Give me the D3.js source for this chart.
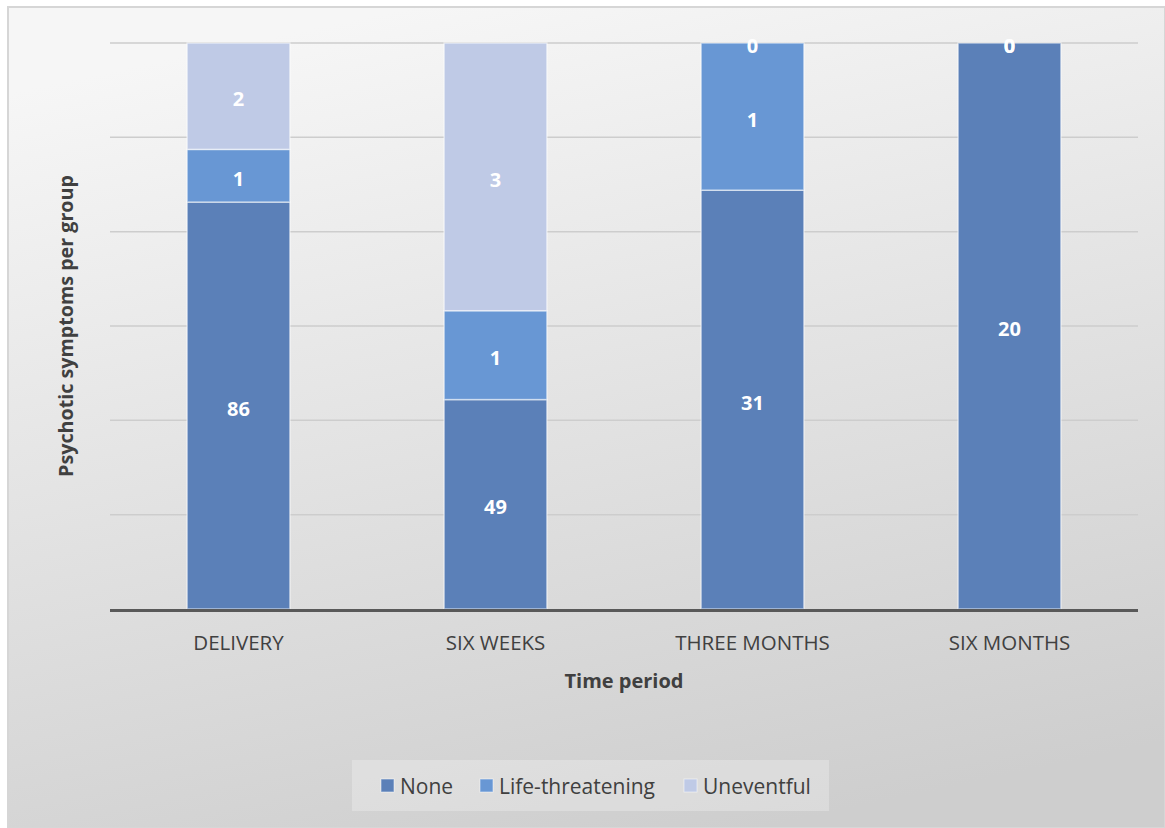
<!DOCTYPE html>
<html>
<head>
<meta charset="utf-8">
<script src="https://cdn.jsdelivr.net/npm/d3@7"></script>
<style>
  html, body { margin: 0; padding: 0; background: #ffffff; }
  svg { display: block; font-family: "Open Sans", "Noto Sans", sans-serif; }
</style>
</head>
<body>
<svg id="chart" width="1165" height="828"></svg>
<script>
// Time periods along the x axis
const periods = ["DELIVERY", "SIX WEEKS", "THREE MONTHS", "SIX MONTHS"];
const seriesNames = ["None", "Life-threatening", "Uneventful"];

// Counts shown in the data labels, per series
const noneCounts = [86, 49, 31, 20];
const lifeCounts = [1, 1, 1, 0];
const uneventfulCounts = [2, 3, 0, 0];

// Share of each bar (percent) taken by each series
const noneShare = [71.9, 37.0, 74.0, 100];
const lifeShare = [9.3, 15.7, 26.0, 0];
const uneventfulShare = [18.8, 47.3, 0, 0];

const gridTicks = [0, 16.67, 33.33, 50, 66.67, 83.33, 100];

const colors = { "None": "#5b80b8", "Life-threatening": "#6897d4", "Uneventful": "#bfcae6" };

const rows = periods.map((p, i) => ({
  period: p,
  "None": noneShare[i],
  "Life-threatening": lifeShare[i],
  "Uneventful": uneventfulShare[i],
  counts: { "None": noneCounts[i], "Life-threatening": lifeCounts[i], "Uneventful": uneventfulCounts[i] }
}));

const svg = d3.select("#chart");
const W = 1165, H = 828;

// Panel background with soft vertical gradient
const defs = svg.append("defs");
const grad = defs.append("linearGradient").attr("id", "bg")
  .attr("x1", "0.35").attr("y1", "0").attr("x2", "0.65").attr("y2", "1");
grad.append("stop").attr("offset", "0").attr("stop-color", "#f6f6f6");
grad.append("stop").attr("offset", "1").attr("stop-color", "#cecece");

svg.append("rect").attr("x", 8).attr("y", 7).attr("width", W - 8).attr("height", H - 7)
  .attr("fill", "url(#bg)").attr("stroke", "#d6d6d6").attr("stroke-width", 2);

const plot = { left: 110, right: 1138, top: 43, bottom: 609 };

const x = d3.scaleBand().domain(periods).range([plot.left, plot.right]).paddingInner(0.6).paddingOuter(0.3);
const y = d3.scaleLinear().domain([0, 100]).range([plot.bottom, plot.top]);

// Gridlines
svg.append("g").selectAll("line").data(gridTicks.slice(1)).join("line")
  .attr("x1", plot.left).attr("x2", plot.right)
  .attr("y1", d => y(d)).attr("y2", d => y(d))
  .attr("stroke", "#cdcdcd").attr("stroke-width", 1.5);

// Stacked bars
const stack = d3.stack().keys(seriesNames);
const layers = stack(rows);

defs.append("clipPath").attr("id", "plotclip").append("rect")
  .attr("x", plot.left).attr("y", plot.top - 6).attr("width", plot.right - plot.left).attr("height", plot.bottom - plot.top + 6);

const barG = svg.append("g");
layers.forEach(layer => {
  barG.append("g").selectAll("rect").data(layer).join("rect")
    .attr("x", d => x(d.data.period))
    .attr("width", x.bandwidth())
    .attr("y", d => y(d[1]))
    .attr("height", d => y(d[0]) - y(d[1]))
    .attr("fill", colors[layer.key])
    .attr("stroke", "#ffffff").attr("stroke-opacity", 0.55).attr("stroke-width", 1.5);
});

// Data labels (counts), centred in each segment
const labelG = svg.append("g").attr("clip-path", "url(#plotclip)");
layers.forEach(layer => {
  labelG.append("g").selectAll("text").data(layer.filter(d => d.data.counts[layer.key] > 0 || d[0] >= 99.9)).join("text")
    .attr("x", d => x(d.data.period) + x.bandwidth() / 2)
    .attr("y", d => (y(d[0]) + y(d[1])) / 2)
    .attr("dy", "0.5em")
    .attr("text-anchor", "middle")
    .attr("fill", "#ffffff").attr("font-weight", "bold").attr("font-size", 20)
    .text(d => d.data.counts[layer.key]);
});

// Baseline
svg.append("line").attr("x1", plot.left).attr("x2", plot.right)
  .attr("y1", plot.bottom + 1.5).attr("y2", plot.bottom + 1.5)
  .attr("stroke", "#595959").attr("stroke-width", 3);

// Category labels
const xAxis = d3.axisBottom(x).tickSize(0).tickPadding(0);
const xg = svg.append("g").attr("transform", `translate(0,${plot.bottom})`).call(xAxis);
xg.select(".domain").remove();
xg.selectAll("text").attr("y", 34).attr("dy", "0.32em")
  .attr("font-family", "\"Open Sans\", sans-serif").attr("font-size", 20.5).attr("fill", "#404040");

// Axis titles
svg.append("text").attr("x", 624).attr("y", 681).attr("dy", "0.35em")
  .attr("text-anchor", "middle").attr("font-weight", "bold").attr("font-size", 20).attr("fill", "#404040")
  .text("Time period");
svg.append("text").attr("transform", "translate(66,326) rotate(-90)").attr("dy", "0.35em")
  .attr("text-anchor", "middle").attr("font-weight", "bold").attr("font-size", 19.7).attr("fill", "#404040")
  .text("Psychotic symptoms per group");

// Legend
const legend = svg.append("g");
legend.append("rect").attr("x", 352).attr("y", 760).attr("width", 477).attr("height", 51)
  .attr("fill", "#ffffff").attr("fill-opacity", 0.25);
const legendItems = [
  { name: "None", x: 381 },
  { name: "Life-threatening", x: 480 },
  { name: "Uneventful", x: 684 }
];
legendItems.forEach(it => {
  legend.append("rect").attr("x", it.x).attr("y", 779).attr("width", 13).attr("height", 13)
    .attr("fill", colors[it.name]).attr("stroke", "#ffffff").attr("stroke-opacity", 0.5);
  legend.append("text").attr("x", it.x + 19).attr("y", 787).attr("dy", "0.35em")
    .attr("font-size", 21).attr("fill", "#404040").text(it.name);
});
</script>
</body>
</html>
